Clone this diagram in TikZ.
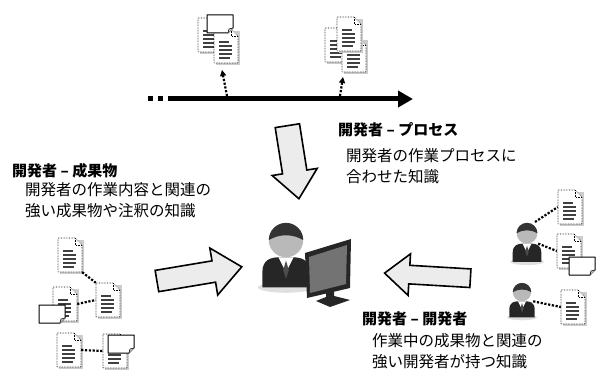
\documentclass[tikz,border=0pt]{standalone}
\usepackage{fontspec}
\setmainfont{Noto Sans CJK JP}
\usetikzlibrary{arrows.meta, shapes.arrows}

\tikzset{
    head/.style={font=\fontsize{15}{20}\selectfont\bfseries, inner sep=0, anchor=west},
    body/.style={font=\fontsize{15.5}{21}\selectfont, align=left, inner sep=0, anchor=west},
    docline/.style={densely dotted, line width=0.6pt},
    dotline/.style={line width=2.2pt, dash pattern=on 2.2pt off 1.6pt},
    dotarrow/.style={dotline, -{Triangle[length=6pt, width=6pt]}},
    bigarrow/.style={single arrow, draw, line width=1.6pt, fill=gray!15, inner xsep=0,
        single arrow tip angle=80},
    % dog-eared page with a few text lines
    doc/.pic={
        \fill[gray!40] (-10,-15) -- (14,-15) -- (14,19) -- (-10,19) -- cycle;
        \draw[docline, fill=white] (-12,-17) -- (5,-17) -- (12,-10) -- (12,17) -- (-12,17) -- cycle;
        \draw[docline] (5,-17) -- (5,-10) -- (12,-10);
        \foreach \y/\w in {-4/3, 0/6, 4/6, 8/6, 12/4}
            \draw[line width=1.3pt, black!75] (-7,\y) -- (\w,\y);
        \node[inner sep=0, minimum width=24pt, minimum height=34pt] (-b) {};
    },
    % sticky note
    note/.pic={
        \draw[line width=1pt, fill=white, line join=round] (-13,-9) -- (13,-9) -- (13,4) -- (8,9) -- (-13,9) -- cycle;
        \filldraw[fill=gray!45, line width=0.6pt] (8,9) -- (9,5) -- (13,4);
        \node[inner sep=0, minimum width=26pt, minimum height=18pt] (-b) {};
    },
    % developer
    person/.pic={
        \fill[gray!25] (0,16) ellipse (13 and 2.5);
        \fill[black!85] (-11,16) -- (-11,9) .. controls (-11,3) and (-7,2) .. (-3,2) -- (3,2)
            .. controls (7,2) and (11,3) .. (11,9) -- (11,16) -- cycle;
        \fill[white] (-3.5,2) -- (0,9) -- (3.5,2) -- cycle;
        \fill[black!70] (0,3.5) -- (-1.3,8) -- (0,12) -- (1.3,8) -- cycle;
        \fill[gray!55] (0,-6) circle (8);
        \fill[black!80] (-8,-6) arc (180:360:8) .. controls (3,-9) and (-3,-9) .. cycle;
        \node[inner sep=0, minimum width=22pt, minimum height=30pt] (-b) at (0,2) {};
    },
}

\begin{document}
\begin{tikzpicture}[x=1pt, y=-1pt]
    \useasboundingbox (0,0) rectangle (597,374);

    % time line
    \coordinate (tl0) at (148,99);
    \coordinate (tl1) at (168,99);
    \coordinate (tlend) at (413,99);
    \draw[line width=5pt, dash pattern=on 5pt off 5pt] (tl0) -- (tl1);
    \draw[line width=5pt, -{Triangle[length=15pt, width=16pt]}] (tl1) -- (tlend);

    % artifacts on the time line
    \pic (t1) at (210,35) {doc};
    \pic (t2) at (226,46) {doc};
    \pic (tn) at (220,24) {note};
    \pic (t3) at (337,45) {doc};
    \pic (t5) at (354,55) {doc};
    \pic (t4) at (349,34) {doc};
    \coordinate (ta) at (227,96);
    \coordinate (tb) at (340,96);
    \coordinate (ua) at (222,70);
    \coordinate (ub) at (343,77);
    \draw[dotarrow] (ta) -- (ua);
    \draw[dotarrow] (tb) -- (ub);

    % developer at the desk
    \pic[scale=2.15] (me) at (286,253) {person};
    \fill[black!85] (305,253) -- (351,239) -- (350,288) -- (307,298) -- cycle;
    \fill[black!55] (309,257) -- (347,245) -- (346,284) -- (310,293) -- cycle;
    \fill[black!85] (326,291) -- (334,289) -- (334,296) -- (350,300) -- (330,307) -- (316,301) -- (326,297) -- cycle;

    % big arrows
    \node[bigarrow, minimum height=74pt, inner ysep=11.5pt, single arrow head extend=10.5pt,
        rotate=-81] (adown) at (292,155) {};
    \node[bigarrow, minimum height=86pt, inner ysep=10pt, single arrow head extend=13pt,
        rotate=9.5] (aleft) at (193,275) {};
    \node[bigarrow, minimum height=86pt, inner ysep=8.5pt, single arrow head extend=11.5pt,
        rotate=176.6] (aright) at (433,276) {};

    % developer - artifact
    \pic (la) at (70,255) {doc};
    \pic (lb) at (108,300) {doc};
    \pic (lc) at (65,304) {doc};
    \pic (ld) at (52,314) {note};
    \pic (le) at (69,350) {doc};
    \pic (lf) at (115,351) {doc};
    \pic (lg) at (121,344) {note};
    \draw[dotline] (la-b.south east) -- (lb-b.north west);
    \draw[dotline] (lc-b.east) -- (lb-b.west);
    \draw[dotline] (le-b.east) -- (lf-b.west);

    % developer - developer
    \pic[scale=1.3] (p1) at (527,241) {person};
    \pic[scale=1.15] (p2) at (522,299) {person};
    \pic (r1) at (570,207) {doc};
    \pic (r2) at (569,251) {doc};
    \pic (rn) at (582,266) {note};
    \pic (r3) at (573,307) {doc};
    \draw[dotline] (535,222) -- (r1-b.west);
    \draw[dotline] (p1-b.east) -- (r2-b.west);
    \draw[dotline] (p2-b.east) -- (r3-b.west);

    % labels
    \node[head] (prochead) at (338,130) {開発者 – プロセス};
    \node[body] (proctext) at (346,166) {開発者の作業プロセスに\\合わせた知識};
    \node[head] (arthead) at (12,171) {開発者 – 成果物};
    \node[body] (arttext) at (25,200) {開発者の作業内容と関連の\\強い成果物や注釈の知識};
    \node[head] (devhead) at (362,319) {開発者 – 開発者};
    \node[body] (devtext) at (372,351) {作業中の成果物と関連の\\強い開発者が持つ知識};
\end{tikzpicture}
\end{document}
